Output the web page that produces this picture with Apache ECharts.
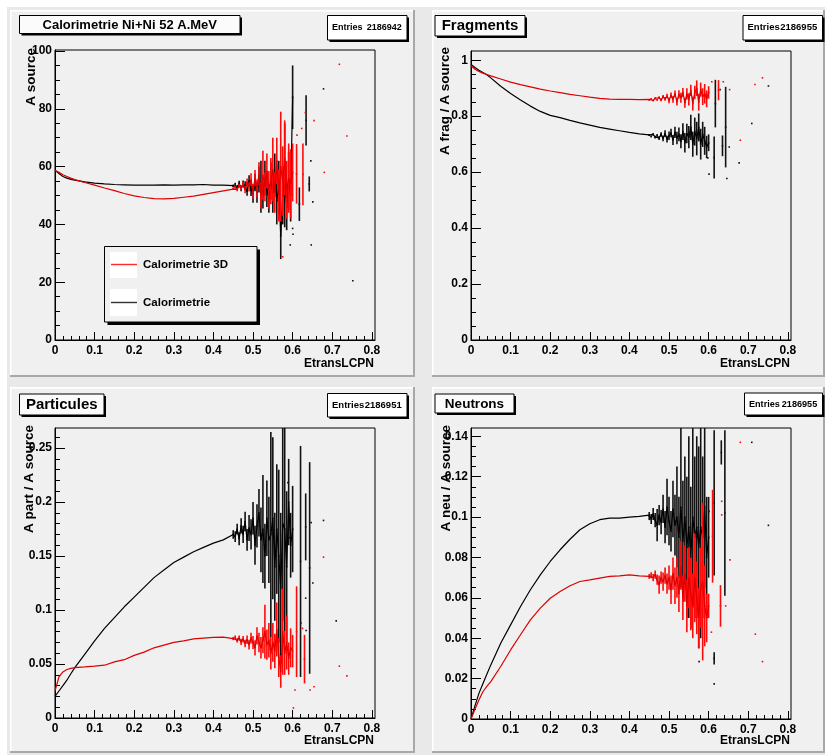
<!DOCTYPE html>
<html><head><meta charset="utf-8">
<script src="https://cdn.jsdelivr.net/npm/echarts@6/dist/echarts.min.js"></script>
<style>html,body{margin:0;padding:0;background:#fff;} #c{width:825px;height:755px;}</style>
</head><body><div id="c"></div>
<script>
// ---------------- DATA ----------------
const smoothX = [0,0.01,0.02,0.03,0.04,0.05,0.075,0.1,0.125,0.15,0.175,0.2,0.225,0.25,0.275,0.3,0.325,0.35,0.375,0.4,0.425,0.45];
const noisyX = [0.45,0.455,0.46,0.465,0.47,0.475,0.48,0.485,0.49,0.495,0.5,0.505,0.51,0.515,0.52,0.525,0.53,0.535,0.54,0.545,0.55,0.555,0.56,0.565,0.57,0.575,0.58,0.585,0.59,0.595,0.6];

const xTickValues = [0,0.1,0.2,0.3,0.4,0.5,0.6,0.7,0.8];
const p1YTicks = [0,20,40,60,80,100];
const p2YTicks = [0,0.2,0.4,0.6,0.8,1];
const p3YTicks = [0,0.05,0.1,0.15,0.2,0.25];
const p4YTicks = [0,0.02,0.04,0.06,0.08,0.1,0.12,0.14];

const titles = ["Calorimetrie Ni+Ni 52 A.MeV","Fragments","Particules","Neutrons"];
const entries = ["2186942","2186955","2186951","2186955"];
const yTitles = ["A source","A frag / A source","A part / A source","A neu / A source"];
const xTitle = "EtransLCPN";
const legendNames = ["Calorimetrie 3D","Calorimetrie"];

// Panel 1 : A source
const p1RedY   = [58.7,58.0,57.2,56.6,56.0,55.5,54.5,53.6,52.6,51.7,50.7,49.9,49.3,48.9,48.8,49.0,49.4,49.8,50.4,51.0,51.6,52.2];
const p1BlackY = [58.7,57.6,56.6,56.0,55.6,55.3,54.7,54.3,54.0,53.8,53.7,53.6,53.6,53.6,53.7,53.6,53.7,53.7,53.8,53.6,53.6,53.4];
const p1RedN   = [52.3,52.8,52.1,53.4,52.6,53.8,52.0,54.5,53.0,55.5,51.5,56.0,52.5,57.5,50.0,57.0,53.0,58.5,52.0,55.0,59.0,51.0,62.0,50.0,60.0,55.0,63.0,52.0,56.0,54.0,58.0];
const p1RedE   = [0.4,0.5,0.6,0.7,0.8,1.0,1.2,1.4,1.6,2.2,2.5,2.8,3.0,4.0,4.5,8.5,5.0,6.0,6.5,8.0,11.0,7.0,8.0,9.0,19.0,12.0,13.0,10.0,12.0,12.0,10.0];
const p1BlackN = [53.3,53.8,52.8,54.2,52.5,54.0,53.5,51.5,55.0,52.0,50.5,54.5,51.0,55.5,53.0,50.0,56.0,52.0,49.0,55.0,51.0,57.0,48.0,53.0,36.0,50.0,57.0,46.0,55.0,50.0,84.0];
const p1BlackE = [0.5,0.6,0.8,0.9,1.0,1.2,1.4,1.6,2.0,2.2,3.0,3.0,3.5,4.5,9.0,4.5,6.0,6.0,5.0,6.5,7.0,7.5,8.0,9.0,8.0,10.0,18.0,8.0,10.0,9.0,11.0];
const p1RedXx   = [0.61,0.626,0.718,0.654,0.737,0.632,0.623,0.611,0.68,0.575];
const p1RedYx   = [57.5,57.3,95.4,75.9,70.6,78.7,73.2,70.9,58.0,28.8];
const p1RedEx   = [10.3,10.7,0,0,0,0,0,0,0,0];
const p1BlackXx = [0.617,0.634,0.642,0.678,0.646,0.651,0.6,0.601,0.594,0.647,0.752];
const p1BlackYx = [47,76,54,86.9,62,47.8,38.6,36.6,32.9,32.9,20.5];
const p1BlackEx = [5.8,8.7,2.6,0,0,0,0,0,0,0,0];

// Panel 2 : Fragments
const p2RedY   = [0.980,0.968,0.960,0.954,0.949,0.944,0.933,0.922,0.913,0.905,0.897,0.890,0.884,0.878,0.873,0.868,0.864,0.861,0.860,0.860,0.859,0.860];
const p2BlackY = [0.985,0.974,0.964,0.956,0.948,0.937,0.907,0.881,0.858,0.836,0.817,0.803,0.795,0.785,0.776,0.768,0.760,0.754,0.748,0.742,0.737,0.733];
const p2RedN   = [0.858,0.862,0.856,0.864,0.859,0.866,0.858,0.870,0.862,0.872,0.856,0.875,0.860,0.880,0.852,0.878,0.866,0.885,0.848,0.880,0.860,0.892,0.845,0.885,0.900,0.850,0.895,0.870,0.880,0.862,0.885];
const p2RedE   = [0.002,0.003,0.003,0.004,0.004,0.005,0.005,0.006,0.007,0.008,0.010,0.010,0.012,0.012,0.014,0.015,0.018,0.016,0.018,0.020,0.022,0.020,0.025,0.024,0.028,0.030,0.025,0.030,0.035,0.030,0.022];
const p2BlackN = [0.732,0.728,0.735,0.725,0.730,0.722,0.735,0.720,0.738,0.718,0.730,0.740,0.715,0.742,0.722,0.735,0.710,0.745,0.705,0.738,0.725,0.760,0.700,0.745,0.720,0.760,0.700,0.735,0.712,0.690,0.705];
const p2BlackE = [0.003,0.003,0.004,0.005,0.006,0.007,0.008,0.010,0.012,0.012,0.015,0.015,0.018,0.020,0.022,0.025,0.025,0.030,0.035,0.035,0.040,0.045,0.045,0.050,0.060,0.050,0.055,0.045,0.050,0.040,0.030];
const p2RedXx   = [0.625,0.736,0.717,0.653,0.637,0.608,0.68];
const p2RedYx   = [0.893,0.937,0.913,0.895,0.923,0.923,0.714];
const p2RedEx   = [0.036,0,0,0,0,0,0];
const p2BlackXx = [0.617,0.614,0.643,0.635,0.751,0.709,0.652,0.677,0.646,0.601,0.598,0.629];
const p2BlackYx = [0.845,0.652,0.761,0.694,0.908,0.774,0.69,0.633,0.577,0.593,0.651,0.895];
const p2BlackEx = [0.085,0.075,0.144,0.037,0,0,0,0,0,0,0,0];

// Panel 3 : Particules
const p3RedY   = [0.025,0.038,0.0427,0.0449,0.046,0.0467,0.0473,0.048,0.0489,0.052,0.054,0.058,0.061,0.065,0.0675,0.07,0.0715,0.0733,0.074,0.0746,0.0749,0.0736];
const p3BlackY = [0.020,0.025,0.030,0.035,0.041,0.0467,0.059,0.0715,0.083,0.093,0.103,0.112,0.121,0.130,0.137,0.144,0.149,0.154,0.158,0.162,0.165,0.170];
const p3RedN   = [0.0736,0.0745,0.072,0.074,0.0705,0.073,0.069,0.0725,0.068,0.074,0.070,0.065,0.076,0.070,0.065,0.072,0.080,0.068,0.072,0.060,0.070,0.062,0.082,0.056,0.043,0.080,0.060,0.070,0.055,0.065,0.062];
const p3RedE   = [0.0015,0.0018,0.002,0.0025,0.003,0.003,0.0035,0.004,0.0045,0.005,0.006,0.007,0.008,0.009,0.010,0.012,0.025,0.014,0.016,0.015,0.018,0.016,0.025,0.018,0.015,0.040,0.020,0.025,0.015,0.018,0.015];
const p3BlackN = [0.170,0.168,0.175,0.166,0.178,0.170,0.182,0.165,0.176,0.170,0.185,0.160,0.178,0.190,0.165,0.175,0.150,0.185,0.165,0.170,0.185,0.140,0.175,0.150,0.120,0.180,0.175,0.140,0.200,0.160,0.175];
const p3BlackE = [0.004,0.005,0.005,0.006,0.007,0.008,0.009,0.010,0.012,0.014,0.015,0.018,0.020,0.022,0.030,0.050,0.030,0.035,0.040,0.095,0.075,0.050,0.060,0.080,0.070,0.090,0.095,0.070,0.040,0.030,0.040];
const p3RedXx   = [0.61,0.63,0.678,0.718,0.737,0.654,0.644,0.606,0.602,0.625];
const p3RedYx   = [0.08,0.0545,0.149,0.048,0.039,0.029,0.026,0.026,0.0093,0.083];
const p3RedEx   = [0.042,0.0225,0,0,0,0,0,0,0,0];
const p3BlackXx = [0.62,0.643,0.633,0.588,0.647,0.678,0.651,0.633,0.71,0.621,0.634,0.592];
const p3BlackYx = [0.145,0.139,0.177,0.218,0.181,0.183,0.125,0.111,0.09,0.088,0.081,0.167];
const p3BlackEx = [0.107,0.098,0.031,0,0,0,0,0,0,0,0,0];

// Panel 4 : Neutrons
const p4RedY   = [0,0.0048,0.0094,0.0135,0.0162,0.0185,0.026,0.0342,0.0417,0.0491,0.0549,0.0598,0.0631,0.066,0.0681,0.0689,0.0698,0.0706,0.0709,0.0714,0.0709,0.0706];
const p4BlackY = [0,0.0065,0.0127,0.0175,0.0222,0.0268,0.0375,0.0466,0.0557,0.064,0.0714,0.078,0.0838,0.089,0.0937,0.0967,0.0987,0.0995,0.0995,0.100,0.1003,0.101];
const p4RedN   = [0.0706,0.0712,0.070,0.0715,0.069,0.0665,0.070,0.068,0.071,0.067,0.070,0.064,0.072,0.066,0.070,0.062,0.076,0.060,0.072,0.056,0.070,0.062,0.056,0.070,0.060,0.050,0.065,0.068,0.056,0.050,0.056];
const p4RedE   = [0.0012,0.0015,0.0018,0.002,0.0025,0.0045,0.003,0.0045,0.004,0.005,0.006,0.007,0.008,0.009,0.010,0.009,0.012,0.011,0.014,0.013,0.015,0.018,0.016,0.022,0.018,0.015,0.020,0.039,0.020,0.012,0.006];
const p4BlackN = [0.1005,0.099,0.1015,0.0985,0.096,0.101,0.0975,0.104,0.095,0.105,0.098,0.093,0.104,0.096,0.100,0.090,0.105,0.088,0.100,0.085,0.095,0.080,0.100,0.090,0.095,0.085,0.095,0.090,0.105,0.080,0.090];
const p4BlackE = [0.002,0.0025,0.003,0.0035,0.008,0.005,0.006,0.007,0.008,0.014,0.012,0.010,0.014,0.015,0.025,0.020,0.040,0.030,0.030,0.035,0.045,0.035,0.045,0.040,0.045,0.050,0.055,0.040,0.040,0.030,0.020];
const p4RedXx   = [0.61,0.63,0.68,0.654,0.633,0.633,0.587,0.643,0.607,0.718,0.736];
const p4RedYx   = [0.0905,0.056,0.137,0.0788,0.1011,0.1078,0.1066,0.056,0.043,0.042,0.0284];
const p4RedEx   = [0.023,0.0103,0,0,0,0,0,0,0,0,0];
const p4BlackXx = [0.614,0.632,0.641,0.614,0.709,0.751,0.601,0.576,0.614];
const p4BlackYx = [0.107,0.132,0.102,0.030,0.137,0.0959,0.1028,0.0284,0.0174];
const p4BlackEx = [0.036,0.006,0.041,0.003,0,0,0,0,0];

// ---------------- LAYOUT ----------------
const FONT = "'Liberation Sans', Arial, Helvetica, sans-serif";
const RED = '#ff0a0a', RED_LINE = '#dc0000', BLACK = '#000000';
const panels = [
  {grid:{left:55,top:50,width:320,height:290}, ymax:100.35, yTicks:p1YTicks, ySplit:4,
   red:p1RedY, black:p1BlackY, redN:p1RedN, redE:p1RedE, blackN:p1BlackN, blackE:p1BlackE,
   rx:p1RedXx, ry:p1RedYx, re:p1RedEx, bx:p1BlackXx, by:p1BlackYx, be:p1BlackEx},
  {grid:{left:471,top:51,width:320,height:289}, ymax:1.033, yTicks:p2YTicks, ySplit:4,
   red:p2RedY, black:p2BlackY, redN:p2RedN, redE:p2RedE, blackN:p2BlackN, blackE:p2BlackE,
   rx:p2RedXx, ry:p2RedYx, re:p2RedEx, bx:p2BlackXx, by:p2BlackYx, be:p2BlackEx},
  {grid:{left:55,top:428,width:320,height:290}, ymax:0.2686, yTicks:p3YTicks, ySplit:5,
   red:p3RedY, black:p3BlackY, redN:p3RedN, redE:p3RedE, blackN:p3BlackN, blackE:p3BlackE,
   rx:p3RedXx, ry:p3RedYx, re:p3RedEx, bx:p3BlackXx, by:p3BlackYx, be:p3BlackEx},
  {grid:{left:471,top:428,width:320,height:291}, ymax:0.1441, yTicks:p4YTicks, ySplit:4,
   red:p4RedY, black:p4BlackY, redN:p4RedN, redE:p4RedE, blackN:p4BlackN, blackE:p4BlackE,
   rx:p4RedXx, ry:p4RedYx, re:p4RedEx, bx:p4BlackXx, by:p4BlackYx, be:p4BlackEx}
];

function zip2(xs, ys){ return xs.map((x,i)=>[x, ys[i]]); }
function zip3(xs, ys, es){ return xs.map((x,i)=>[x, ys[i], es[i]]); }
const fmt = v => String(parseFloat(Number(v).toFixed(4)));

function errRender(color, ymax){
  return function(params, api){
    const x = api.value(0), y = api.value(1), e = api.value(2);
    const c = api.coord([x, y]);
    const kids = [];
    if (e > 0){
      const t = api.coord([x, Math.min(y + e, ymax)]);
      const b = api.coord([x, Math.max(y - e, 0)]);
      kids.push({type:'line', shape:{x1:c[0], y1:t[1], x2:c[0], y2:b[1]}, style:{stroke:color, lineWidth:1.6}});
    }
    if (y <= ymax) kids.push({type:'rect', shape:{x:c[0]-0.8, y:c[1]-0.8, width:1.6, height:1.6}, style:{fill:color}});
    return {type:'group', children:kids};
  };
}

const grids = [], xAxes = [], yAxes = [], series = [];
panels.forEach((p, i) => {
  grids.push(Object.assign({show:true, borderColor:'#000', borderWidth:1, backgroundColor:'transparent', containLabel:false, outerBoundsMode:'none'}, p.grid));
  xAxes.push({type:'value', gridIndex:i, min:0, max:0.808, interval:0.1,
    axisLine:{show:true, onZero:false, lineStyle:{color:'#000', width:1}},
    axisTick:{show:true, inside:true, length:8, customValues:xTickValues, lineStyle:{color:'#000', width:1}},
    minorTick:{show:true, splitNumber:5, length:4, lineStyle:{color:'#000', width:1}},
    axisLabel:{show:true, customValues:xTickValues, margin:5, color:'#000', fontSize:12, fontWeight:'bold', fontFamily:FONT, formatter:fmt},
    splitLine:{show:false}, minorSplitLine:{show:false}});
  const iv = p.yTicks[1] - p.yTicks[0];
  yAxes.push({type:'value', gridIndex:i, min:0, max:p.ymax, interval:iv,
    axisLine:{show:true, onZero:false, lineStyle:{color:'#000', width:1}},
    axisTick:{show:true, inside:true, length:10, customValues:p.yTicks, lineStyle:{color:'#000', width:1}},
    minorTick:{show:true, splitNumber:p.ySplit, length:5, lineStyle:{color:'#000', width:1}},
    axisLabel:{show:true, customValues:p.yTicks, margin:3, color:'#000', fontSize:12, fontWeight:'bold', fontFamily:FONT, formatter:fmt},
    splitLine:{show:false}, minorSplitLine:{show:false}});
  // black profile: smooth part + noisy part joined, then error bars
  series.push({type:'line', xAxisIndex:i, yAxisIndex:i, data:zip2(smoothX, p.black).concat(zip2(noisyX.slice(1), p.blackN.slice(1))),
    showSymbol:false, symbol:'none', clip:true, lineStyle:{color:BLACK, width:1.2}, silent:true, z:3});
  series.push({type:'custom', xAxisIndex:i, yAxisIndex:i, clip:true, renderItem:errRender('#111111', p.ymax),
    data:zip3(noisyX, p.blackN, p.blackE).concat(zip3(p.bx, p.by, p.be)), silent:true, z:3});
  // red profile
  series.push({type:'line', xAxisIndex:i, yAxisIndex:i, data:zip2(smoothX, p.red).concat(zip2(noisyX.slice(1), p.redN.slice(1))),
    showSymbol:false, symbol:'none', clip:true, lineStyle:{color:RED_LINE, width:1.2}, silent:true, z:4});
  series.push({type:'custom', xAxisIndex:i, yAxisIndex:i, clip:true, renderItem:errRender(RED, p.ymax),
    data:zip3(noisyX, p.redN, p.redE).concat(zip3(p.rx, p.ry, p.re)), silent:true, z:4});
});

// ---------------- GRAPHICS (pads, boxes, texts) ----------------
const G = [];
G.push({type:'rect', z:-20, shape:{x:0,y:0,width:825,height:755}, style:{fill:'#ffffff'}});
G.push({type:'rect', z:-19, shape:{x:7,y:7,width:818,height:748}, style:{fill:'#e9e9e9'}});
const pads = [{x:10,y:10,w:405,h:367},{x:432,y:10,w:393,h:367},{x:10,y:387,w:405,h:366},{x:432,y:387,w:393,h:366}];
pads.forEach(p => {
  G.push({type:'rect', z:-18, shape:{x:p.x,y:p.y,width:p.w,height:p.h}, style:{fill:'#f0f0f0'}});
  G.push({type:'rect', z:-17, shape:{x:p.x,y:p.y,width:p.w,height:1.5}, style:{fill:'#ffffff'}});
  G.push({type:'rect', z:-17, shape:{x:p.x,y:p.y,width:1.5,height:p.h}, style:{fill:'#ffffff'}});
  G.push({type:'rect', z:-17, shape:{x:p.x+p.w-2,y:p.y,width:2,height:p.h}, style:{fill:'#a8a8a8'}});
  G.push({type:'rect', z:-17, shape:{x:p.x,y:p.y+p.h-2,width:p.w,height:2}, style:{fill:'#a8a8a8'}});
});
function box(x1,y1,x2,y2,sh,fill){
  G.push({type:'rect', z:50, shape:{x:x1+sh,y:y1+sh,width:x2-x1,height:y2-y1}, style:{fill:'#000'}});
  G.push({type:'rect', z:51, shape:{x:x1,y:y1,width:x2-x1,height:y2-y1}, style:{fill:fill, stroke:'#000', lineWidth:1}});
}
function txt(x,y,s,size,align,extra){
  G.push(Object.assign({type:'text', z:60, x:x, y:y, style:{text:s, fill:'#000', font:'bold '+size+'px '+FONT, align:align, verticalAlign:'middle'}}, extra||{}));
}
// title boxes
const titleBoxes = [[19.5,15.5,240,33.5,13],[435,15.5,525,36,15],[19.5,394,104,415,15],[435,394,514,413,13.5]];
titleBoxes.forEach((b,i) => { box(b[0],b[1],b[2],b[3],2,'#fbfbfb'); txt((b[0]+b[2])/2, (b[1]+b[3])/2+0.5, titles[i], b[4], 'center'); });
// stats boxes
const statBoxes = [[327.5,15.5,407,40,9],[743,15.5,822.5,40,9.5],[327.5,393.5,407,417,9.5],[744.5,393,822.5,415,9.1]];
statBoxes.forEach((b,i) => {
  box(b[0],b[1],b[2],b[3],2,'#ffffff');
  txt(b[0]+4.5, (b[1]+b[3])/2, 'Entries', b[4], 'left');
  txt(b[2]-5.3, (b[1]+b[3])/2, entries[i], b[4], 'right');
});
// axis titles
[[374,364],[790,364],[374,741],[790,741]].forEach(a => txt(a[0], a[1], xTitle, 12, 'right'));
[[31.5,48],[445.3,47],[29.7,425],[446.7,425]].forEach((a,i) => txt(a[0], a[1], yTitles[i], 13.5, 'right', {rotation:Math.PI/2}));
// legend
box(104.5,246.5,257,322,3,'#f0f0f0');
G.push({type:'rect', z:55, shape:{x:110,y:252,width:27,height:26}, style:{fill:'#ffffff'}});
G.push({type:'rect', z:55, shape:{x:110,y:289,width:27,height:27}, style:{fill:'#ffffff'}});
G.push({type:'line', z:56, shape:{x1:111,y1:264.5,x2:137,y2:264.5}, style:{stroke:'#ff2a2a', lineWidth:1.4}});
G.push({type:'line', z:56, shape:{x1:111,y1:302.5,x2:137,y2:302.5}, style:{stroke:'#333333', lineWidth:1.4}});
txt(143, 265, legendNames[0], 11.5, 'left');
txt(143, 303, legendNames[1], 11.5, 'left');

const chart = echarts.init(document.getElementById('c'), null, {renderer:'canvas'});
chart.setOption({
  animation:false,
  backgroundColor:'#ffffff',
  grid:grids, xAxis:xAxes, yAxis:yAxes, series:series,
  graphic:{elements:G}
});
</script></body></html>
